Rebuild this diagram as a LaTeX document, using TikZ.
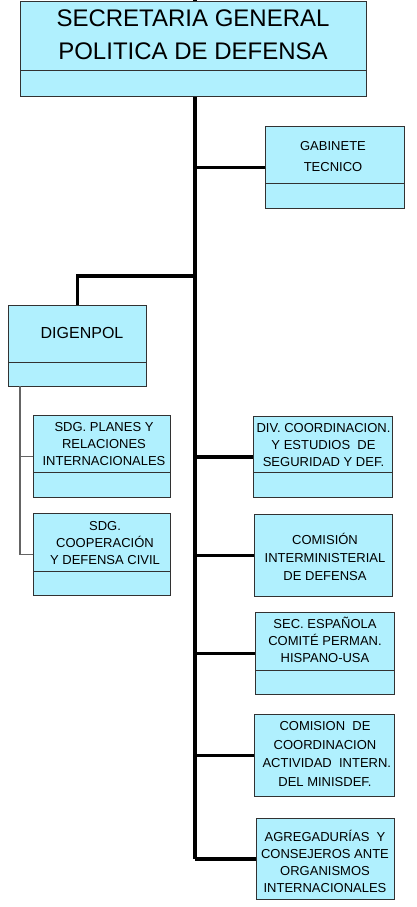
\documentclass[tikz,border=0pt]{standalone}
\usepackage{fontspec}
\setmainfont{Liberation Sans}
\definecolor{boxfill}{RGB}{176,240,254}
\definecolor{boxline}{RGB}{50,50,50}
\definecolor{subline}{RGB}{100,100,100}
\begin{document}
\begin{tikzpicture}[x=1pt,y=-1pt,
  orgbox/.style={draw=boxline,fill=boxfill,line width=1pt,inner sep=0pt,anchor=north west},
  divline/.style={draw=boxline,line width=0.9pt},
  trunkline/.style={line width=3.2pt,black},
  subconn/.style={line width=1.3pt,subline},
  smalltext/.style={align=center,inner sep=0pt,font=\fontsize{13}{17}\selectfont}]
\useasboundingbox (0,0) rectangle (417,907);
% trunk
\coordinate (ttop) at (195,0);
\coordinate (tend) at (195,859);
\draw[trunkline] (ttop) -- (tend);
% DIGENPOL branch
\coordinate (dbr) at (195,276);
% boxes
\node[orgbox,minimum width=346pt,minimum height=95pt] (sg) at (20,1) {};
\node[orgbox,minimum width=139pt,minimum height=82pt] (gab) at (265,126) {};
\node[orgbox,minimum width=138pt,minimum height=81pt] (dig) at (8,305) {};
\node[orgbox,minimum width=137pt,minimum height=82pt] (planes) at (33,415) {};
\node[orgbox,minimum width=137pt,minimum height=82pt] (coop) at (33,513) {};
\node[orgbox,minimum width=139pt,minimum height=81pt] (divc) at (253,416) {};
\node[orgbox,minimum width=138pt,minimum height=82pt] (comint) at (254,514) {};
\node[orgbox,minimum width=139pt,minimum height=82pt] (sec) at (255,612) {};
\node[orgbox,minimum width=140pt,minimum height=82pt] (comcoord) at (254,714) {};
\node[orgbox,minimum width=138pt,minimum height=81pt] (agreg) at (256,818) {};
% dividers
\draw[divline] (sg.west |- 0,70) -- (sg.east |- 0,70);
\draw[divline] (gab.west |- 0,183) -- (gab.east |- 0,183);
\draw[divline] (dig.west |- 0,362) -- (dig.east |- 0,362);
\draw[divline] (planes.west |- 0,472) -- (planes.east |- 0,472);
\draw[divline] (coop.west |- 0,571) -- (coop.east |- 0,571);
\draw[divline] (divc.west |- 0,472) -- (divc.east |- 0,472);
\draw[divline] (sec.west |- 0,670) -- (sec.east |- 0,670);
% texts
\node[align=center,inner sep=0pt,font=\fontsize{24}{33}\selectfont] (sgt) at (193,35) {SECRETARIA GENERAL\\POLITICA DE DEFENSA};
\node[smalltext,font=\fontsize{13}{21}\selectfont] (gabt) at (333,156.5) {GABINETE\\TECNICO};
\node[align=center,inner sep=0pt,font=\fontsize{16}{20}\selectfont] (digt) at (82,333) {DIGENPOL};
\node[smalltext] (planest) at (104,444) {SDG. PLANES Y\\RELACIONES\\INTERNACIONALES};
\node[smalltext] (coopt) at (105,543) {SDG.\\COOPERACIÓN\\Y DEFENSA CIVIL};
\node[smalltext] (divct) at (323.5,445) {DIV. COORDINACION.\\Y ESTUDIOS \ DE\\SEGURIDAD Y DEF.};
\node[smalltext,font=\fontsize{13}{18}\selectfont] (comintt) at (325,557) {COMISIÓN\\INTERMINISTERIAL\\DE DEFENSA};
\node[smalltext] (sect) at (325,640) {SEC. ESPAÑOLA\\COMITÉ PERMAN.\\HISPANO-USA};
\node[smalltext,font=\fontsize{13}{18.7}\selectfont] (comcoordt) at (325,754) {COMISION \ DE\\COORDINACION\\ \ ACTIVIDAD \ INTERN.\\DEL MINISDEF.};
\node[smalltext] (agregt) at (325,861) {AGREGADURÍAS \ Y\\CONSEJEROS ANTE\\ORGANISMOS\\INTERNACIONALES};
% connectors
\draw[trunkline] (gab.west) -- (gab.west -| ttop);
\draw[trunkline] (divc.west) -- (divc.west -| ttop);
\draw[trunkline] (comint.west) -- (comint.west -| ttop);
\draw[trunkline] (sec.west) -- (sec.west -| ttop);
\draw[trunkline] (comcoord.west) -- (comcoord.west -| ttop);
\draw[trunkline] (agreg.west) -- (agreg.west -| ttop);
\draw[trunkline] (dbr) -| (dig.north);
\coordinate (subtop) at (20,386);
\draw[subconn] (subtop) |- (coop.west);
\draw[subconn] (subtop |- planes.west) -- (planes.west);
\end{tikzpicture}
\end{document}
